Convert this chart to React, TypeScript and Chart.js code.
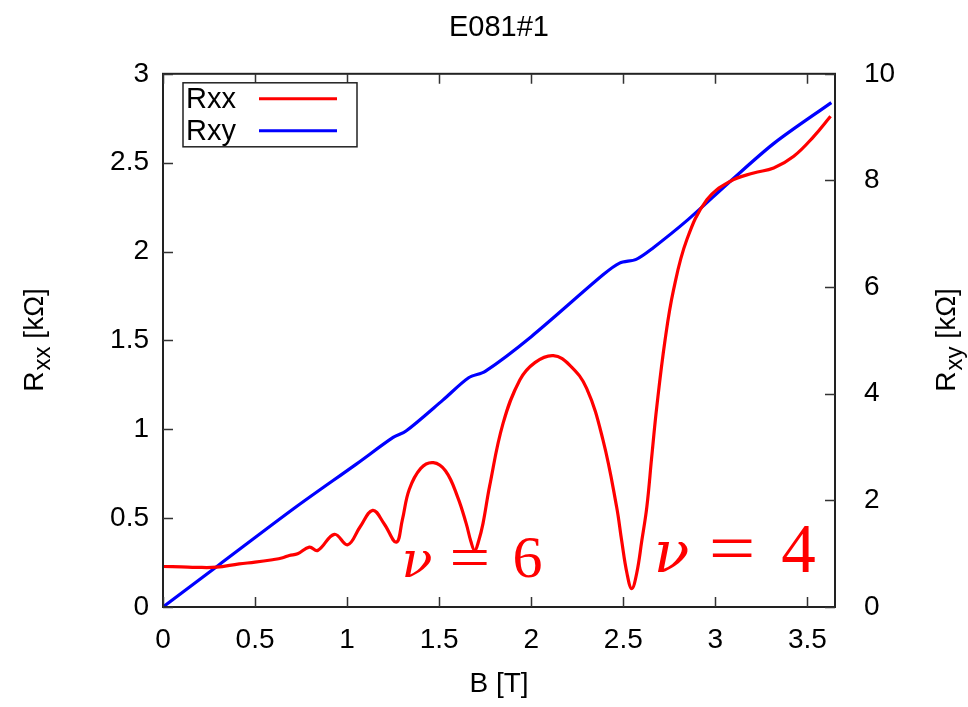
import React, { useEffect, useRef } from "react";
import { Chart, registerables } from "chart.js";
Chart.register(...registerables);

// ---- data ----
const chartTitle = "E081#1";
const seriesNames = ["Rxx", "Rxy"];

const bRxx = [
  0.0, 0.1, 0.18, 0.29, 0.414, 0.5, 0.595, 0.65, 0.686, 0.731, 0.795, 0.84,
  0.931, 1.003, 1.07, 1.139, 1.2, 1.267, 1.3, 1.337, 1.4, 1.468, 1.535,
  1.6, 1.647, 1.672, 1.693, 1.714, 1.738, 1.774, 1.847, 1.938, 2.02,
  2.12, 2.21, 2.301, 2.39, 2.464, 2.491, 2.52, 2.546, 2.573, 2.601, 2.628,
  2.655, 2.682, 2.727, 2.773, 2.845, 2.954, 3.081, 3.208, 3.317, 3.426, 3.535,
  3.626,
];
const rxx = [
  0.228, 0.226, 0.223, 0.224, 0.243, 0.252, 0.266, 0.277, 0.29, 0.3, 0.337,
  0.318, 0.409, 0.35, 0.45, 0.544, 0.47, 0.365, 0.49, 0.66, 0.78, 0.812,
  0.765, 0.62, 0.469, 0.37, 0.318, 0.37, 0.469, 0.68, 1.033, 1.277,
  1.375, 1.414, 1.36, 1.23, 0.939, 0.563, 0.375, 0.19, 0.103, 0.19, 0.375,
  0.563, 0.85, 1.126, 1.502, 1.784, 2.066, 2.291, 2.395, 2.442, 2.47, 2.536,
  2.648, 2.761,
];

const bRxy = [
  0.0, 0.3, 0.72, 1.05, 1.25, 1.32, 1.52, 1.66, 1.75, 2.0, 2.39, 2.48, 2.57,
  2.66, 2.85, 3.08, 3.32, 3.63,
];
const rxy = [
  0.0, 0.78, 1.87, 2.68, 3.18, 3.3, 3.88, 4.3, 4.42, 5.07, 6.23, 6.45, 6.52,
  6.73, 7.26, 7.98, 8.7, 9.46,
];

const xTicks = [0, 0.5, 1, 1.5, 2, 2.5, 3, 3.5];
const yTicks = [0, 0.5, 1, 1.5, 2, 2.5, 3];
const y2Ticks = [0, 2, 4, 6, 8, 10];
const fillingFactors = ["6", "4"];

const SANS = "'Liberation Sans', Arial, Helvetica, sans-serif";
const SERIF = "'Liberation Serif', 'Times New Roman', serif";
const NU_FONT = "'DejaVu Serif', 'Liberation Serif', serif";

function drawRotatedSubTitle(
  ctx: CanvasRenderingContext2D,
  cx: number,
  cy: number,
  main: string,
  sub: string,
  rest: string,
  size: number,
  subSize: number
) {
  ctx.save();
  ctx.translate(cx, cy);
  ctx.rotate(-Math.PI / 2);
  ctx.fillStyle = "#000";
  ctx.textBaseline = "alphabetic";
  ctx.textAlign = "left";
  ctx.font = `${size}px ${SANS}`;
  const w1 = ctx.measureText(main).width;
  const w3 = ctx.measureText(rest).width;
  ctx.font = `${subSize}px ${SANS}`;
  const w2 = ctx.measureText(sub).width;
  const total = w1 + w2 + w3;
  let x0 = -total / 2;
  const base = size * 0.36;
  ctx.font = `${size}px ${SANS}`;
  ctx.fillText(main, x0, base);
  x0 += w1 + 1;
  ctx.font = `${subSize}px ${SANS}`;
  ctx.fillText(sub, x0, base + size * 0.25);
  x0 += w2;
  ctx.font = `${size}px ${SANS}`;
  ctx.fillText(rest, x0, base);
  ctx.restore();
}

function drawNu(
  ctx: CanvasRenderingContext2D,
  x0: number,
  base: number,
  digit: string,
  size: number
) {
  ctx.save();
  ctx.fillStyle = "#ff0000";
  ctx.textBaseline = "alphabetic";
  ctx.textAlign = "left";
  ctx.font = `italic ${size * 0.85}px ${NU_FONT}`;
  ctx.fillText("\u03BD", x0, base);
  ctx.font = `${size}px ${SERIF}`;
  ctx.save();
  ctx.translate(x0 + size * 0.8, base);
  ctx.scale(1.2, 1);
  ctx.fillText("=", 0, 0);
  ctx.restore();
  ctx.fillText(digit, x0 + size * 1.85, base);
  ctx.restore();
}

const decorPlugin = {
  id: "decor",
  afterDatasetsDraw(chart: any) {
    const { ctx, chartArea: a, scales } = chart;
    const sx = scales.x, sy = scales.y, sy2 = scales.y2;
    ctx.save();

    // nu annotations (anchored in data coordinates)
    drawNu(ctx, sx.getPixelForValue(1.295), sy.getPixelForValue(0.166), fillingFactors[0], 60);
    drawNu(ctx, sx.getPixelForValue(2.665), sy.getPixelForValue(0.196), fillingFactors[1], 69);

    // frame
    ctx.strokeStyle = "#222";
    ctx.lineWidth = 2;
    ctx.strokeRect(a.left, a.top, a.right - a.left, a.bottom - a.top);

    // inward ticks
    ctx.lineWidth = 1.5;
    ctx.strokeStyle = "#333";
    ctx.beginPath();
    const L = 10;
    sx.ticks.forEach((t: any) => {
      const p = Math.round(sx.getPixelForValue(t.value)) + 0.5;
      ctx.moveTo(p, a.bottom);
      ctx.lineTo(p, a.bottom - L);
      ctx.moveTo(p, a.top);
      ctx.lineTo(p, a.top + L);
    });
    sy.ticks.forEach((t: any) => {
      const p = Math.round(sy.getPixelForValue(t.value)) + 0.5;
      ctx.moveTo(a.left, p);
      ctx.lineTo(a.left + L, p);
    });
    sy2.ticks.forEach((t: any) => {
      const p = Math.round(sy2.getPixelForValue(t.value)) + 0.5;
      ctx.moveTo(a.right, p);
      ctx.lineTo(a.right - L, p);
    });
    ctx.stroke();

    // legend (gnuplot style: text then line sample)
    const bx = a.left + 20, by = a.top + 9, bw = 174, bh = 64;
    ctx.fillStyle = "#fff";
    ctx.fillRect(bx, by, bw, bh);
    ctx.strokeStyle = "#222";
    ctx.lineWidth = 1.5;
    ctx.strokeRect(bx, by, bw, bh);
    chart.data.datasets.forEach((ds: any, i: number) => {
      const yy = by + 16 + i * 32;
      ctx.fillStyle = "#000";
      ctx.font = `29px ${SANS}`;
      ctx.textAlign = "left";
      ctx.textBaseline = "middle";
      ctx.fillText(ds.label, bx + 3, yy + 1);
      ctx.strokeStyle = ds.borderColor;
      ctx.lineWidth = 3;
      ctx.beginPath();
      ctx.moveTo(bx + 76, yy);
      ctx.lineTo(bx + 154, yy);
      ctx.stroke();
    });

    // axis titles
    const midY = (a.top + a.bottom) / 2;
    drawRotatedSubTitle(ctx, 33, midY, "R", "xx", " [k\u03A9]", 28, 24);
    drawRotatedSubTitle(ctx, 945, midY, "R", "xy", " [k\u03A9]", 28, 24);
    ctx.fillStyle = "#000";
    ctx.font = `28px ${SANS}`;
    ctx.textAlign = "center";
    ctx.textBaseline = "middle";
    ctx.fillText("B [T]", (a.left + a.right) / 2, 684);

    ctx.restore();
  },
};

export default function App() {
  const ref = useRef<HTMLCanvasElement>(null);
  useEffect(() => {
    Chart.defaults.font.family = SANS;
    const tickFont = { size: 28 };
    const chart = new Chart(ref.current as HTMLCanvasElement, {
      type: "line",
      data: {
        datasets: [
          {
            label: seriesNames[0],
            data: bRxx.map((b, i) => ({ x: b, y: rxx[i] })),
            borderColor: "#ff0000",
            borderWidth: 3.2,
            pointRadius: 0,
            tension: 0.4,
            yAxisID: "y",
          },
          {
            label: seriesNames[1],
            data: bRxy.map((b, i) => ({ x: b, y: rxy[i] })),
            borderColor: "#0000ff",
            borderWidth: 3.2,
            pointRadius: 0,
            tension: 0.3,
            yAxisID: "y2",
          },
        ],
      },
      options: {
        responsive: true,
        maintainAspectRatio: false,
        animation: false,
        layout: { padding: 0 },
        plugins: {
          legend: { display: false },
          tooltip: { enabled: false },
          title: {
            display: true,
            text: chartTitle,
            fullSize: false,
            color: "#000",
            font: { size: 29, weight: "normal" },
            padding: { top: 11, bottom: 28 },
          },
        },
        scales: {
          x: {
            type: "linear",
            min: 0,
            max: 3.65,
            afterBuildTicks: (s: any) => {
              s.ticks = xTicks.map((v) => ({ value: v }));
            },
            afterFit: (s: any) => {
              s.height = 100;
            },
            grid: { display: false, drawTicks: false },
            border: { display: false },
            ticks: {
              font: tickFont,
              color: "#000",
              padding: 16,
              maxRotation: 0,
              autoSkip: false,
              callback: (v: any) => String(v),
            },
          },
          y: {
            type: "linear",
            position: "left",
            min: 0,
            max: 3,
            afterBuildTicks: (s: any) => {
              s.ticks = yTicks.map((v) => ({ value: v }));
            },
            afterFit: (s: any) => {
              s.width = 163;
            },
            grid: { display: false, drawTicks: false },
            border: { display: false },
            ticks: {
              font: tickFont,
              color: "#000",
              padding: 14,
              autoSkip: false,
              callback: (v: any) => String(v),
            },
          },
          y2: {
            type: "linear",
            position: "right",
            min: 0,
            max: 10,
            afterBuildTicks: (s: any) => {
              s.ticks = y2Ticks.map((v) => ({ value: v }));
            },
            afterFit: (s: any) => {
              s.width = 133;
            },
            grid: { display: false, drawTicks: false },
            border: { display: false },
            ticks: {
              font: tickFont,
              color: "#000",
              padding: 29,
              autoSkip: false,
              callback: (v: any) => String(v),
            },
          },
        },
      },
      plugins: [decorPlugin],
    } as any);
    return () => chart.destroy();
  }, []);
  return (
    <div
      style={{
        position: "absolute",
        left: 0,
        top: 0,
        width: 968,
        height: 707,
        background: "#fff",
      }}
    >
      <canvas ref={ref} />
    </div>
  );
}
